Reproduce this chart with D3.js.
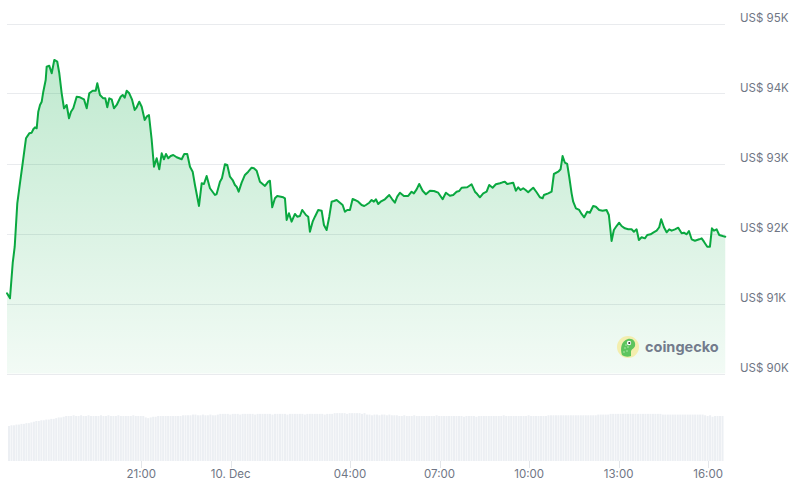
<!DOCTYPE html>
<html>
<head>
<meta charset="utf-8">
<script src="https://cdn.jsdelivr.net/npm/d3@7"></script>
<style>
html,body{margin:0;padding:0;background:#fff;}
svg{display:block;font-family:Inter,"Noto Sans",sans-serif;}
</style>
</head>
<body>
<svg id="chart" width="800" height="481"></svg>
<script>
// ---- data ----
const startTime = "2024-12-09T16:30:00";
const endTime = "2024-12-10T16:34:00";
// minutes since start
const priceMinutes = [0,6,11.5,15.5,20.7,26.1,31.6,38.2,44.8,49.7,52.9,56.3,59.7,62.9,66.4,69.8,73,77.8,79.8,85,89.9,95.1,101.1,105.2,110,114.6,120,124.7,128.7,133.3,140.1,146.8,154.8,160.3,165.5,172.3,178.4,181.6,187,193.6,197.7,201.7,205.7,210.5,215.1,220.6,228.6,232.6,236.7,240.7,245.9,251.3,256.8,260.8,266,270.9,276.9,280.9,285.5,291,295.6,301,306.2,311.1,315.7,319.7,324.3,329.2,334.4,341.2,351.3,356.5,362.5,368,373.4,378,386.1,391.5,396.1,401.5,408.2,418.2,421.6,428.3,432.3,438.3,443,448.4,453.8,458.4,461.8,465.9,471.9,478.5,485.2,492,496.6,502.1,508.7,518.8,525.4,528.8,533.4,538.9,543.5,555.6,559,562.4,567,572.4,579.1,583.7,589.1,593.8,601.2,605.8,609.2,614.7,619.3,625.9,632.8,637.4,642.8,648.1,652.9,657.5,663,669.6,675,679.6,684.3,689.7,695.1,699.7,706.4,713.2,718.5,721.8,728.5,733.3,737.9,741.9,746.6,751.4,760,768.7,774.7,780.1,784.8,790.2,798.2,806.9,813.7,818.3,823.8,829,835.9,842.5,850.6,858.6,867.2,876.1,882.7,890.7,897.4,904.2,909.5,914.3,925.6,934.4,941.1,945.7,951.1,957.8,964.6,969.9,976.6,983.2,991.3,996.7,1001.3,1005.9,1012.8,1018,1023.4,1028.1,1032.9,1038.2,1043,1048.2,1053,1058.3,1065.1,1071.7,1077.2,1079.8,1088.5,1095.3,1099.9,1108.6,1113.3,1117.4,1122,1126.6,1130.7,1135.5,1138.7,1144.2,1150.8,1155.6,1160.8,1166.8,1172.2,1178.9,1184.3,1190.9,1197.8,1205.8,1210.4,1215.9,1220.5,1225.9,1231.2,1236,1242.6,1249.3,1256.1,1260.8,1266.2,1270.8,1276.3,1282.9,1287.6,1294.4,1299.6,1306.5,1311.7,1315.7,1321.2,1326.6,1331.8,1336.7,1343.3,1350,1356.8,1361.4,1366.9,1371.5,1376.9,1383.5,1392.2,1397,1401.7,1408.3,1413.7,1417.7,1421.7,1427.2,1432.4,1439.3,1444.5];
const priceValues = [91146,91074,91579,91811,92431,92721,93007,93360,93431,93440,93489,93517,93503,93740,93836,93883,94026,94193,94383,94397,94289,94479,94454,94289,94003,93789,93836,93646,93740,93789,93954,93946,93917,93789,94003,94040,94040,94146,93979,93931,93931,93803,93931,93917,93789,93836,93954,93979,93940,94040,94003,93917,93764,93803,93883,93811,93621,93669,93693,93336,92954,93074,92917,93146,93060,93136,93074,93107,93121,93089,93060,93136,93136,92954,92883,92693,92393,92717,92707,92821,92646,92550,92564,92740,92789,92989,92979,92811,92764,92693,92669,92597,92726,92836,92883,92940,92931,92897,92740,92679,92740,92754,92374,92503,92536,92517,92503,92193,92289,92169,92279,92240,92250,92336,92264,92240,92026,92169,92240,92336,92326,92121,92050,92240,92454,92464,92479,92440,92407,92311,92336,92336,92493,92479,92454,92407,92393,92407,92440,92479,92454,92489,92421,92454,92489,92550,92489,92440,92526,92583,92536,92536,92597,92574,92631,92707,92611,92560,92611,92607,92583,92489,92583,92540,92550,92597,92607,92654,92660,92703,92597,92564,92517,92574,92597,92693,92654,92703,92717,92731,92740,92707,92717,92726,92611,92660,92621,92646,92621,92589,92621,92654,92589,92517,92503,92550,92574,92597,92850,92883,92917,93107,93011,92993,92811,92574,92454,92360,92336,92279,92231,92311,92297,92393,92383,92336,92326,92336,92264,91893,92050,92107,92154,92107,92074,92060,92060,92026,92060,91907,91946,91931,91979,91989,92011,92040,92089,92203,92089,92017,92060,92040,92060,92083,92003,92011,91989,92036,91917,91897,91917,91931,91883,91811,91811,92074,92040,92060,91979,91964,91954];
// 24h volume (billions USD), one bar per 5 minutes
const volumeValues = [
49,50,50,51,51,52,52,53,53,54,55,56,
56,57,57,58,58,59,59,60,61,61,62,63,
63,63,64,63,63,64,63,63,64,63,63,63,
63,64,63,63,64,63,63,63,64,63,63,63,
63,63,64,63,63,63,63,61,60,61,62,62,
63,63,63,63,63,63,63,63,63,63,64,64,
64,64,65,65,64,64,65,64,64,65,64,64,
65,66,66,66,66,65,66,66,66,65,66,66,
66,66,66,65,66,66,66,66,66,66,65,66,
66,66,66,66,65,66,66,66,66,66,66,65,
66,66,66,66,66,66,66,65,66,66,66,67,
67,67,67,67,66,67,67,67,67,67,66,67,
65,65,64,65,65,64,65,65,64,65,64,64,
64,63,63,64,63,63,63,64,63,63,63,63,
63,63,63,63,64,63,63,63,63,63,63,63,
63,63,63,62,63,63,63,63,62,63,63,63,
63,63,63,63,63,63,63,64,63,63,63,63,
63,63,63,63,63,64,63,63,63,63,63,63,
63,64,64,64,64,64,64,64,64,64,64,64,
64,64,64,64,64,64,64,64,64,65,65,65,
65,65,66,66,66,66,66,66,66,66,66,66,
66,66,66,66,66,66,66,66,66,66,66,65,
65,65,65,65,65,65,65,65,65,65,65,65,
65,65,65,65,64,63,64,62,63,63,63,63];
const yTicks = [90000,91000,92000,93000,94000,95000];
const xTickTimes = ["2024-12-09T21:00:00","2024-12-10T00:00:00","2024-12-10T04:00:00","2024-12-10T07:00:00","2024-12-10T10:00:00","2024-12-10T13:00:00","2024-12-10T16:00:00"];
const xTickLabels = ["21:00","10. Dec","04:00","07:00","10:00","13:00","16:00"];

// ---- drawing ----
const svg = d3.select("#chart");
const t0 = new Date(startTime);
const parse = s => new Date(s);
const x = d3.scaleTime().domain([t0, parse(endTime)]).range([7, 725]);
const y = d3.scaleLinear().domain([90000, 95000]).range([373.5, 23.5]);
const vy = d3.scaleLinear().domain([0, 70]).range([461, 411]);

const prices = priceMinutes.map((m, i) => ({t: new Date(t0.getTime() + m * 60000), v: priceValues[i]}));

// gradient
const defs = svg.append("defs");
const grad = defs.append("linearGradient").attr("id", "areaGrad")
  .attr("gradientUnits", "userSpaceOnUse").attr("x1", 0).attr("x2", 0)
  .attr("y1", y(94500)).attr("y2", y(90000));
grad.append("stop").attr("offset", 0).attr("stop-color", "#00a83e").attr("stop-opacity", 0.25);
grad.append("stop").attr("offset", 1).attr("stop-color", "#00a83e").attr("stop-opacity", 0.05);

// grid
svg.append("g").selectAll("line").data(yTicks).join("line")
  .attr("x1", 7).attr("x2", 725)
  .attr("y1", d => Math.round(y(d)) + 0.5).attr("y2", d => Math.round(y(d)) + 0.5)
  .attr("stroke", "#e9ebee").attr("stroke-width", 1);

// area
const area = d3.area().x(d => x(d.t)).y0(y(90000)).y1(d => y(d.v)).curve(d3.curveLinear);
svg.append("path").datum(prices).attr("d", area).attr("fill", "url(#areaGrad)");

// line
const line = d3.line().x(d => x(d.t)).y(d => y(d.v)).curve(d3.curveLinear);
svg.append("path").datum(prices).attr("d", line)
  .attr("fill", "none").attr("stroke", "#0aa840").attr("stroke-width", 2)
  .attr("stroke-linejoin", "round").attr("stroke-linecap", "round");

// y labels
svg.append("g").selectAll("text").data(yTicks).join("text")
  .attr("x", 740).attr("y", d => y(d) - 2)
  .attr("font-size", 11.5).attr("fill", "#6f7685")
  .text(d => "US$ " + (d / 1000) + "K");

// volume bars
const barW = (x(new Date(t0.getTime() + 5 * 60000)) - x(t0));
svg.append("g").selectAll("rect").data(volumeValues).join("rect")
  .attr("x", (d, i) => x(new Date(t0.getTime() + i * 5 * 60000)) + 1)
  .attr("width", barW * 0.8)
  .attr("y", d => vy(d)).attr("height", d => vy(0) - vy(d))
  .attr("fill", "#eceff3");

// x ticks
const xTicks = xTickTimes.map(parse);
svg.append("g").selectAll("line").data(xTicks).join("line")
  .attr("x1", d => Math.round(x(d)) + 0.5).attr("x2", d => Math.round(x(d)) + 0.5)
  .attr("y1", 461).attr("y2", 468).attr("stroke", "#e3e6ea");
svg.append("g").selectAll("text").data(xTicks).join("text")
  .attr("x", d => x(d)).attr("y", 478)
  .attr("text-anchor", "middle").attr("font-size", 11.5).attr("fill", "#6f7685")
  .text((d, i) => xTickLabels[i]);

// logo
const logo = svg.append("g").attr("transform", "translate(628,347)");
logo.append("circle").attr("r", 11).attr("fill", "#f3eeae");
logo.append("path").attr("d", "M-6,8 C-8,2 -7,-6 0,-8 C5,-9 8,-5 7,-1 C6,2 3,2 3,5 L3,9 C0,10 -3,10 -6,8 Z").attr("fill", "#5cc45e");
logo.append("circle").attr("cx", 1).attr("cy", -4).attr("r", 2.2).attr("fill", "#fff");
logo.append("circle").attr("cx", 1.3).attr("cy", -4).attr("r", 1.1).attr("fill", "#333");
[[-3,1],[-1,4],[-4,5],[0,0],[-2,-2]].forEach(p => logo.append("circle").attr("cx", p[0]).attr("cy", p[1]).attr("r", 0.7).attr("fill", "#c8f0c0"));
svg.append("text").attr("x", 645).attr("y", 352).attr("font-size", 14.5).attr("font-weight", 700)
  .attr("fill", "#737b8c").text("coingecko");
</script>
</body>
</html>
